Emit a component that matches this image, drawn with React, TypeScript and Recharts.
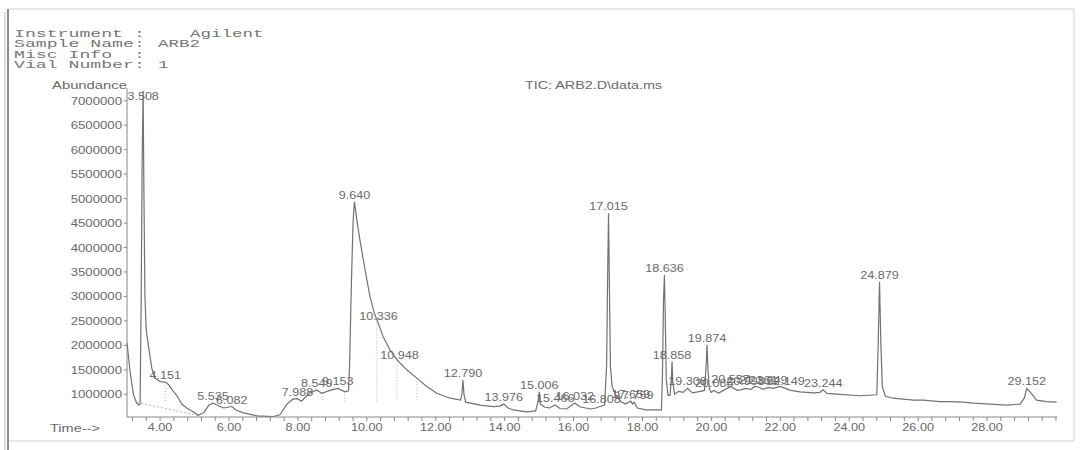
import { LineChart, Line, XAxis, YAxis, ReferenceDot, ReferenceLine } from "recharts";

// TIC trace between the labelled peaks: retention time (min) / abundance
const traceTimes = [
  3.04, 3.13, 3.23, 3.32, 3.38, 3.42, 3.45, 3.48, 3.53, 3.56, 3.6, 3.66, 3.76, 3.85, 4.0,
  4.24, 4.34, 4.48, 4.63, 4.77, 4.97, 5.11, 5.26, 5.42, 5.65, 5.84, 6.2, 6.42, 6.81, 7.29,
  7.48, 7.68, 7.85, 8.1, 8.35, 8.69, 8.93, 9.37, 9.47, 9.5, 9.55, 9.6, 9.71, 9.8, 9.95,
  10.09, 10.22, 10.47, 10.67, 10.85, 11.16, 11.45, 11.74, 12.03, 12.42, 12.72, 12.76, 12.82,
  12.87, 13.29, 13.67, 13.85, 14.1, 14.25, 14.64, 14.9, 14.97, 15.04, 15.15, 15.3, 15.6, 15.8,
  16.2, 16.5, 16.65, 16.9, 16.96, 16.99, 17.04, 17.07, 17.12, 17.22, 17.37, 17.5, 17.71, 17.85,
  18.1, 18.4, 18.55, 18.58, 18.61, 18.66, 18.69, 18.74, 18.8, 18.84, 18.88, 18.93, 19.05, 19.18,
  19.45, 19.6, 19.8, 19.84, 19.9, 19.94, 19.99, 20.2, 20.35, 20.75, 20.85, 21.15, 21.25, 21.5,
  21.8, 21.99, 22.3, 22.57, 22.96, 23.15, 23.35, 23.73, 24.31, 24.8, 24.84, 24.92, 24.96, 25.05,
  25.28, 25.86, 26.15, 26.63, 26.93, 27.3, 27.6, 28.1, 28.57, 28.96, 29.08, 29.25, 29.44, 29.73,
  30.02,
];
const traceAbundance = [
  2050000, 1460000, 990000, 820000, 780000, 800000, 2800000, 5800000, 5200000, 3000000, 2300000, 2000000, 1530000, 1330000, 1260000,
  1200000, 1100000, 980000, 800000, 720000, 640000, 570000, 620000, 780000, 780000, 720000, 680000, 620000, 560000, 545000,
  580000, 800000, 900000, 860000, 1030000, 1020000, 1080000, 1050000, 1070000, 1600000, 3200000, 4500000, 4560000, 4150000, 3540000,
  3000000, 2650000, 2180000, 1910000, 1730000, 1500000, 1330000, 1160000, 1020000, 920000, 880000, 1000000, 1000000,
  840000, 780000, 750000, 760000, 720000, 680000, 640000, 660000, 850000, 800000, 740000, 720000, 710000, 700000,
  740000, 700000, 720000, 780000, 1600000, 3500000, 3200000, 1560000, 1160000, 990000, 850000, 800000, 800000, 720000,
  680000, 680000, 680000, 1400000, 2900000, 2600000, 1300000, 980000, 980000, 1350000, 1250000, 1000000, 1060000, 1040000,
  1030000, 1050000, 1080000, 1500000, 1500000, 1120000, 1040000, 1020000, 1080000, 1080000, 1090000, 1100000, 1160000, 1100000,
  1120000, 1160000, 1080000, 1050000, 1030000, 1040000, 1020000, 1000000, 970000, 990000, 2000000, 2000000, 1150000, 960000,
  920000, 880000, 880000, 850000, 850000, 840000, 820000, 800000, 780000, 800000, 920000, 1050000, 880000, 850000,
  840000,
];

// integrated peaks: retention time shown in the label and apex abundance
const peakTimes = [
  3.508, 4.151, 5.535, 6.082, 7.988, 8.549, 9.153, 9.64, 10.336, 10.948, 12.79, 13.976,
  15.006, 15.466, 16.032, 16.808, 17.015, 17.659, 17.759, 18.636, 18.858, 19.308, 19.874,
  20.085, 20.557, 20.993, 21.361, 21.649, 22.149, 23.244, 24.879, 29.152,
];
const peakAbundance = [
  7200000, 1250000, 820000, 750000, 910000, 1090000, 1120000, 4940000, 2450000, 1650000, 1290000, 800000,
  1050000, 780000, 820000, 760000, 4700000, 860000, 840000, 3440000, 1670000, 1120000, 2010000,
  1080000, 1160000, 1120000, 1150000, 1140000, 1120000, 1090000, 3300000, 1120000,
];

// dotted integration drops and the sloped baseline under the solvent tail
const dropTimes = [4.151, 8.11, 8.72, 9.35, 10.29, 10.87, 11.45];
const dropFloor = 850000;
const baselineTimes = [3.34, 5.11];
const baselineAbundance = [830000, 570000];

const timeLabels = [4, 6, 8, 10, 12, 14, 16, 18, 20, 22, 24, 26, 28];
const abundanceTicks = [1000000, 1500000, 2000000, 2500000, 3000000, 3500000, 4000000, 4500000, 5000000, 5500000, 6000000, 6500000, 7000000];

const headerKeys = ["Instrument :", "Sample Name:", "Misc Info  :", "Vial Number:"];
const headerValues = ["Agilent", "ARB2", "", "1"];
const headerValueX = [190, 158, 158, 158];

const minorTicks = Array.from({ length: 68 }, (_, i) => +(3.2 + i * 0.4).toFixed(1));

const data = [
  ...traceTimes.map((t, i) => ({ t, a: traceAbundance[i] })),
  ...peakTimes.map((t, i) => ({ t, a: peakAbundance[i] })),
].sort((p, q) => p.t - q.t);

const valueAt = (t: number) => {
  for (let i = 0; i < data.length - 1; i++) {
    const p = data[i];
    const q = data[i + 1];
    if (t >= p.t && t <= q.t) return p.a + ((q.a - p.a) * (t - p.t)) / (q.t - p.t);
  }
  return dropFloor;
};

const SANS = "'Liberation Sans', Arial, sans-serif";
const MONO = "'Liberation Mono', 'Courier New', monospace";
const INK = "#6a6a6a";

const TimeTick = ({ x, y, payload }: any) => {
  const v = payload.value;
  if (!timeLabels.includes(v)) return <g />;
  return (
    <text transform={`translate(${x},${y + 8}) scale(1.15,1)`} textAnchor="middle" fontSize={11} fontFamily={SANS} fill={INK}>
      {v.toFixed(2)}
    </text>
  );
};

const AbundanceTick = ({ x, y, payload }: any) => (
  <text transform={`translate(${x},${y + 4}) scale(1.2,1)`} textAnchor="end" fontSize={11} fontFamily={SANS} fill={INK}>
    {payload.value}
  </text>
);

const PeakLabel = ({ viewBox, text }: any) => {
  if (!viewBox) return null;
  const x = viewBox.x + (viewBox.width || 0) / 2;
  const y = Math.max(viewBox.y + (viewBox.height || 0) / 2 - 3, 100);
  return (
    <text transform={`translate(${x},${y}) scale(1.2,1)`} textAnchor="middle" fontSize={10.5} fontFamily={SANS} fill={INK}>
      {text}
    </text>
  );
};

export default function App() {
  return (
    <div style={{ position: "absolute", left: 0, top: 0, width: 1082, height: 450, background: "#fff", overflow: "hidden" }}>
      <LineChart width={1082} height={450} data={data} margin={{ top: 88, right: 25, bottom: 0, left: 0 }}>
        <XAxis
          dataKey="t"
          type="number"
          domain={[3.04, 30.03]}
          ticks={minorTicks}
          interval={0}
          allowDataOverflow
          height={33}
          tickSize={4}
          tickMargin={2}
          stroke="#888"
          tick={<TimeTick />}
        />
        <YAxis
          type="number"
          domain={[536000, 7260000]}
          ticks={abundanceTicks}
          interval={0}
          allowDataOverflow
          width={127}
          tickSize={3}
          tickMargin={2}
          stroke="#888"
          tick={<AbundanceTick />}
        />
        <ReferenceLine
          segment={[
            { x: baselineTimes[0], y: baselineAbundance[0] },
            { x: baselineTimes[1], y: baselineAbundance[1] },
          ]}
          stroke="#b5b5b5"
          strokeDasharray="2 2"
        />
        {dropTimes.map((t) => (
          <ReferenceLine
            key={`drop-${t}`}
            segment={[
              { x: t, y: valueAt(t) },
              { x: t, y: dropFloor },
            ]}
            stroke="#b5b5b5"
            strokeDasharray="1 2"
          />
        ))}
        <Line type="linear" dataKey="a" stroke="#727272" strokeWidth={1.2} dot={false} isAnimationActive={false} />
        {peakTimes.map((t, i) => (
          <ReferenceDot
            key={`peak-${t}`}
            x={t}
            y={peakAbundance[i]}
            r={0}
            fill="none"
            stroke="none"
            label={<PeakLabel text={t.toFixed(3)} />}
          />
        ))}
      </LineChart>

      <svg width={1082} height={450} style={{ position: "absolute", left: 0, top: 0, pointerEvents: "none" }}>
        {/* page frame */}
        <rect x={8} y={9} width={1066} height={432} fill="none" stroke="#d2d2d2" />
        <line x1={8} y1={9} x2={8} y2={450} stroke="#8c8c8c" strokeWidth={2} />
        <line x1={5} y1={12} x2={5} y2={450} stroke="#dcdcdc" strokeWidth={2} />

        {headerKeys.map((k, i) => (
          <g key={k} fontFamily={MONO} fontSize={11} fill="#777">
            <text x={14} y={37 + i * 10.4} textLength={k.length * 10.9} lengthAdjust="spacingAndGlyphs" style={{ whiteSpace: "pre" }}>
              {k}
            </text>
            {headerValues[i] && (
              <text x={headerValueX[i]} y={37 + i * 10.4} textLength={headerValues[i].length * 10.5} lengthAdjust="spacingAndGlyphs">
                {headerValues[i]}
              </text>
            )}
          </g>
        ))}

        <text x={525} y={89} textLength={137} lengthAdjust="spacingAndGlyphs" fontSize={10.5} fontFamily={SANS} fill={INK}>
          TIC: ARB2.D\data.ms
        </text>
        <text x={52} y={89} textLength={75} lengthAdjust="spacingAndGlyphs" fontSize={10.5} fontFamily={SANS} fill={INK}>
          Abundance
        </text>
        <text x={50} y={431.5} textLength={50} lengthAdjust="spacingAndGlyphs" fontSize={10.5} fontFamily={SANS} fill={INK}>
          Time--&gt;
        </text>
      </svg>
    </div>
  );
}
